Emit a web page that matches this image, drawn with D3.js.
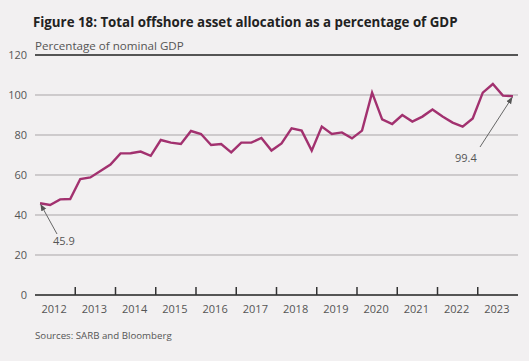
<!DOCTYPE html>
<html><head><meta charset="utf-8">
<script src="https://cdn.jsdelivr.net/npm/d3@7"></script>
<style>
html,body{margin:0;padding:0;background:#f2f0f1;}
svg{display:block;font-family:"Open Sans","Lato",sans-serif;}
</style></head>
<body>
<script>
const title = "Figure 18: Total offshore asset allocation as a percentage of GDP";
const subtitle = "Percentage of nominal GDP";
const source = "Sources: SARB and Bloomberg";
const years = [2012,2013,2014,2015,2016,2017,2018,2019,2020,2021,2022,2023];
const yTicks = [0,20,40,60,80,100,120];
// quarterly values, 2012Q1 .. 2023Q4
const values = [
 45.9,45.0,47.8,48.0,
 58.0,58.8,62.0,65.2,
 70.8,70.9,71.7,69.6,
 77.5,76.2,75.5,82.0,
 80.5,75.0,75.5,71.3,
 76.2,76.2,78.5,72.2,
 75.8,83.3,82.2,72.2,
 84.2,80.5,81.3,78.3,
 82.2,101.2,87.8,85.5,
 90.0,86.7,89.2,92.8,
 89.2,86.2,84.2,88.3,
 101.2,105.5,99.7,99.4
];
const annotations = [
 {idx:0, label:"45.9", tx:53, ty:245, ax:57, ay:234},
 {idx:47, label:"99.4", tx:455, ty:162, ax:480, ay:147}
];

const W=529,H=361;
const svg=d3.select("body").append("svg").attr("width",W).attr("height",H);
svg.append("rect").attr("width",W).attr("height",H).attr("fill","#f2f0f1");

const x=d3.scaleLinear().domain([2012,2024]).range([35,518]);
const y=d3.scaleLinear().domain([0,120]).range([295,55]);
const col="#a2316f";

svg.append("text").attr("x",33).attr("y",27).attr("font-size",13.3).attr("font-weight",700)
  .attr("fill","#222").text(title);
svg.append("text").attr("x",35).attr("y",50).attr("font-size",11.6).attr("fill","#555").text(subtitle);
svg.append("text").attr("x",35).attr("y",339).attr("font-size",9.7).attr("fill","#555").text(source);

// gridlines
svg.append("g").selectAll("line").data(yTicks).join("line")
  .attr("x1",35).attr("x2",518).attr("y1",d=>y(d)).attr("y2",d=>y(d))
  .attr("stroke",d=>(d===0||d===120)?"#555":"#a9a5a7")
  .attr("stroke-width",d=>(d===0||d===120)?2:1);

// y labels
svg.append("g").selectAll("text").data(yTicks).join("text")
  .attr("x",27).attr("y",d=>y(d)+4).attr("text-anchor","end")
  .attr("font-size",11).attr("fill","#555").text(d=>d);

// x ticks at year boundaries
svg.append("g").selectAll("line").data(years.slice(1)).join("line")
  .attr("x1",d=>x(d)).attr("x2",d=>x(d)).attr("y1",295).attr("y2",287)
  .attr("stroke","#333").attr("stroke-width",1.5);
svg.append("g").selectAll("text").data(years).join("text")
  .attr("x",d=>x(d+0.5)-1).attr("y",313).attr("text-anchor","middle")
  .attr("font-size",11).attr("fill","#555").text(d=>d);

// line
const xi=i=>x(2012+(i+0.5)/4);
svg.append("path").datum(values)
  .attr("d",d3.line().x((d,i)=>xi(i)).y(d=>y(d)))
  .attr("fill","none").attr("stroke",col).attr("stroke-width",2.4).attr("stroke-linejoin","miter");

// arrows
const defs=svg.append("defs");
defs.append("marker").attr("id","ah").attr("viewBox","0 0 10 10").attr("refX",9).attr("refY",5)
  .attr("markerWidth",7).attr("markerHeight",7).attr("orient","auto")
  .append("path").attr("d","M0,1 L10,5 L0,9 Z").attr("fill","#555");
annotations.forEach(a=>{
  const px=xi(a.idx), py=y(values[a.idx]);
  const dx=px-a.ax, dy=py-a.ay, L=Math.hypot(dx,dy);
  svg.append("line").attr("x1",a.ax).attr("y1",a.ay)
    .attr("x2",px-dx/L*1.5).attr("y2",py-dy/L*1.5)
    .attr("stroke","#666").attr("stroke-width",1).attr("marker-end","url(#ah)");
  svg.append("text").attr("x",a.tx).attr("y",a.ty).attr("font-size",11).attr("fill","#555").text(a.label);
});
</script>
</body></html>
